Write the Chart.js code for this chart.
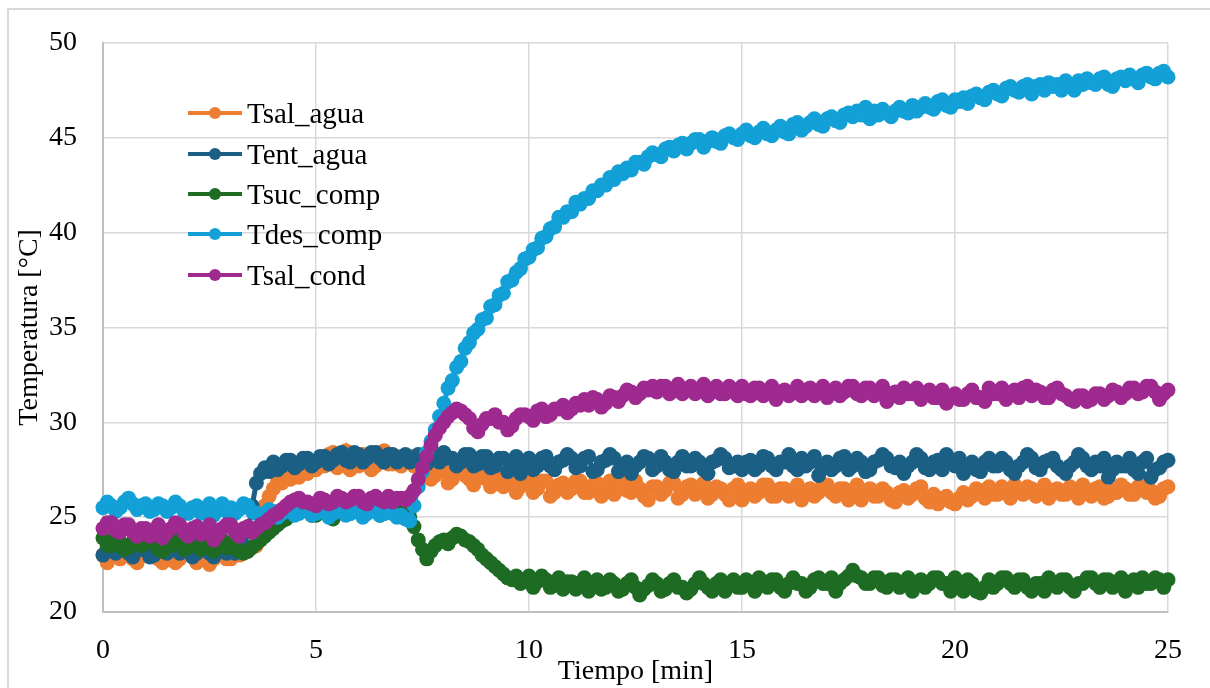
<!DOCTYPE html>
<html>
<head>
<meta charset="utf-8">
<script src="https://cdn.jsdelivr.net/npm/chart.js@4.4.1/dist/chart.umd.min.js"></script>
<style>
    html, body { margin: 0; padding: 0; background: #fff; overflow: hidden; }
    #wrap { position: relative; width: 1210px; height: 688px; }
    #frame { position: absolute; left: 7px; top: 8px; width: 1230px; height: 720px; border: 2px solid #d9d9d9; }
    #grafico { position: absolute; left: 0; top: 0; }
    #leyenda { position: absolute; left: 188px; top: 93px; font-family: 'Liberation Serif', 'Times New Roman', serif; font-size: 29px; color: #000; }
    .item { display: flex; align-items: center; height: 40.4px; line-height: 40px; white-space: nowrap; }
    .sw { position: relative; width: 54px; height: 40px; margin-right: 5px; }
    .sw .ln { position: absolute; left: 0; top: 18px; width: 54px; height: 4px; }
    .sw .dt { position: absolute; left: 21px; top: 14px; width: 12px; height: 12px; border-radius: 50%; }
</style>
</head>
<body>
<div id="wrap">
    <div id="frame"></div>
    <canvas id="grafico" width="1210" height="688"></canvas>
    <div id="leyenda"></div>
</div>
<script>
// Tiempo [min], one row per minute
const tiempo = [
    0, 0.1, 0.2, 0.3, 0.4, 0.5, 0.6, 0.7, 0.8, 0.9,
    1, 1.1, 1.2, 1.3, 1.4, 1.5, 1.6, 1.7, 1.8, 1.9,
    2, 2.1, 2.2, 2.3, 2.4, 2.5, 2.6, 2.7, 2.8, 2.9,
    3, 3.1, 3.2, 3.3, 3.4, 3.5, 3.6, 3.7, 3.8, 3.9,
    4, 4.1, 4.2, 4.3, 4.4, 4.5, 4.6, 4.7, 4.8, 4.9,
    5, 5.1, 5.2, 5.3, 5.4, 5.5, 5.6, 5.7, 5.8, 5.9,
    6, 6.1, 6.2, 6.3, 6.4, 6.5, 6.6, 6.7, 6.8, 6.9,
    7, 7.1, 7.2, 7.3, 7.4, 7.5, 7.6, 7.7, 7.8, 7.9,
    8, 8.1, 8.2, 8.3, 8.4, 8.5, 8.6, 8.7, 8.8, 8.9,
    9, 9.1, 9.2, 9.3, 9.4, 9.5, 9.6, 9.7, 9.8, 9.9,
    10, 10.1, 10.2, 10.3, 10.4, 10.5, 10.6, 10.7, 10.8, 10.9,
    11, 11.1, 11.2, 11.3, 11.4, 11.5, 11.6, 11.7, 11.8, 11.9,
    12, 12.1, 12.2, 12.3, 12.4, 12.5, 12.6, 12.7, 12.8, 12.9,
    13, 13.1, 13.2, 13.3, 13.4, 13.5, 13.6, 13.7, 13.8, 13.9,
    14, 14.1, 14.2, 14.3, 14.4, 14.5, 14.6, 14.7, 14.8, 14.9,
    15, 15.1, 15.2, 15.3, 15.4, 15.5, 15.6, 15.7, 15.8, 15.9,
    16, 16.1, 16.2, 16.3, 16.4, 16.5, 16.6, 16.7, 16.8, 16.9,
    17, 17.1, 17.2, 17.3, 17.4, 17.5, 17.6, 17.7, 17.8, 17.9,
    18, 18.1, 18.2, 18.3, 18.4, 18.5, 18.6, 18.7, 18.8, 18.9,
    19, 19.1, 19.2, 19.3, 19.4, 19.5, 19.6, 19.7, 19.8, 19.9,
    20, 20.1, 20.2, 20.3, 20.4, 20.5, 20.6, 20.7, 20.8, 20.9,
    21, 21.1, 21.2, 21.3, 21.4, 21.5, 21.6, 21.7, 21.8, 21.9,
    22, 22.1, 22.2, 22.3, 22.4, 22.5, 22.6, 22.7, 22.8, 22.9,
    23, 23.1, 23.2, 23.3, 23.4, 23.5, 23.6, 23.7, 23.8, 23.9,
    24, 24.1, 24.2, 24.3, 24.4, 24.5, 24.6, 24.7, 24.8, 24.9,
    25
];

const tSalAgua = [
    23.0, 22.6, 23.4, 23.0, 22.8, 23.2, 23.2, 22.8, 22.6, 23.0,
    23.0, 23.4, 23.2, 22.8, 22.6, 23.0, 23.0, 22.6, 22.8, 23.2,
    23.2, 23.0, 22.6, 23.0, 23.0, 22.5, 22.8, 23.2, 23.2, 22.8,
    22.8, 23.0, 23.0, 23.3, 23.2, 23.4, 23.5, 24.5, 25.6, 26.1,
    26.5, 26.9, 26.8, 27.2, 27.0, 27.4, 27.1, 27.5, 27.3, 27.6,
    27.5, 28.0, 27.7, 28.3, 28.4, 27.6, 27.8, 28.5, 27.5, 28.0,
    27.7, 28.3, 28.0, 27.5, 27.7, 28.4, 28.5, 27.8, 27.8, 28.2,
    27.7, 28.1, 28.2, 27.7, 27.6, 27.3, 27.5, 27.0, 27.2, 27.6,
    27.4, 26.8, 27.0, 27.5, 27.6, 27.2, 27.0, 26.7, 27.3, 27.5,
    27.0, 26.6, 27.2, 26.8, 26.6, 27.1, 26.9, 26.3, 26.6, 26.8,
    26.9, 26.3, 26.5, 26.9, 26.9, 26.1, 26.3, 26.7, 26.8, 26.3,
    26.5, 26.9, 26.9, 26.3, 26.3, 26.7, 26.8, 26.1, 26.5, 26.9,
    26.2, 26.6, 26.8, 26.4, 26.3, 26.9, 26.5, 26.1, 25.9, 26.6,
    26.6, 26.2, 26.4, 26.8, 26.8, 26.0, 26.2, 26.6, 26.7, 26.2,
    26.4, 26.8, 26.0, 26.2, 26.6, 26.5, 26.2, 25.9, 26.5, 26.7,
    25.9, 26.3, 26.5, 26.1, 26.3, 26.7, 26.7, 26.1, 26.1, 26.5,
    26.5, 26.1, 26.3, 26.7, 25.9, 26.3, 26.5, 26.1, 26.3, 26.7,
    26.7, 26.3, 26.1, 26.5, 26.5, 25.9, 26.3, 26.7, 25.9, 26.3,
    26.5, 26.1, 26.1, 26.5, 26.3, 25.9, 25.8, 26.3, 26.4, 26.0,
    26.2, 26.5, 26.6, 26.0, 25.8, 26.2, 25.7, 26.0, 26.1, 25.8,
    25.7, 26.0, 26.3, 25.9, 26.1, 26.5, 26.4, 26.0, 26.6, 26.2,
    26.2, 26.6, 26.4, 26.0, 26.7, 26.4, 26.2, 26.6, 26.5, 26.1,
    26.4, 26.7, 26.0, 26.4, 26.5, 26.2, 26.2, 26.6, 26.4, 26.0,
    26.7, 26.4, 26.1, 26.5, 26.6, 26.0, 26.1, 26.4, 26.3, 26.7,
    26.5, 26.2, 26.2, 26.6, 26.7, 26.3, 26.4, 26.0, 26.1, 26.5,
    26.6
];

const tEntAgua = [
    23.0, 23.4, 23.5, 23.1, 23.3, 23.5, 23.1, 22.9, 23.5, 23.3,
    23.3, 22.9, 23.0, 23.5, 23.3, 23.1, 23.5, 23.3, 23.1, 23.5,
    23.3, 22.9, 23.1, 23.3, 23.5, 23.1, 22.9, 23.3, 23.4, 23.1,
    23.5, 23.1, 23.3, 23.5, 24.2, 25.6, 26.8, 27.3, 27.6, 27.4,
    27.9, 27.5, 27.7, 28.0, 28.0, 27.6, 27.8, 28.1, 28.1, 27.7,
    27.9, 28.2, 28.2, 27.8, 28.0, 28.3, 28.4, 28.0, 27.9, 28.4,
    28.3, 27.9, 28.1, 28.4, 28.4, 28.1, 27.9, 28.3, 28.3, 27.9,
    28.1, 28.3, 27.9, 28.1, 28.3, 27.8, 27.8, 28.3, 28.3, 27.9,
    28.4, 28.1, 28.1, 27.7, 27.9, 28.3, 28.3, 27.7, 27.8, 28.2,
    28.2, 27.6, 27.7, 28.1, 28.1, 27.4, 27.9, 28.2, 27.3, 27.9,
    28.1, 27.5, 27.7, 28.1, 28.2, 27.7, 27.5, 27.9, 28.0, 28.3,
    28.1, 27.6, 27.7, 28.1, 28.2, 27.4, 27.5, 27.9, 28.0, 28.3,
    28.1, 27.4, 27.7, 27.9, 27.3, 27.7, 27.9, 28.2, 28.1, 27.5,
    27.7, 28.2, 27.9, 27.5, 27.4, 27.9, 28.2, 27.7, 27.7, 28.1,
    27.9, 27.5, 27.3, 27.9, 28.0, 28.3, 28.1, 27.6, 27.7, 27.9,
    27.5, 27.9, 28.0, 27.5, 27.7, 28.2, 28.1, 27.7, 27.5, 27.9,
    27.9, 28.3, 27.7, 27.5, 28.1, 27.7, 27.9, 28.2, 27.2, 27.7,
    27.9, 27.5, 27.7, 28.1, 28.2, 27.5, 27.7, 28.1, 27.9, 27.4,
    27.5, 27.9, 28.0, 28.3, 28.1, 27.7, 27.6, 27.9, 27.3, 27.7,
    27.9, 28.3, 28.1, 27.6, 27.5, 27.9, 28.0, 27.5, 28.3, 27.9,
    27.7, 28.1, 27.3, 27.7, 27.9, 27.5, 27.4, 27.9, 28.1, 27.7,
    27.7, 28.1, 27.9, 27.5, 27.3, 27.7, 27.9, 28.3, 28.1, 27.6,
    27.5, 27.9, 28.0, 28.1, 27.7, 27.5, 27.3, 27.7, 27.9, 28.3,
    28.1, 27.7, 27.5, 27.9, 27.7, 28.1, 27.1, 27.5, 27.9, 27.7,
    27.7, 28.1, 27.5, 27.3, 27.9, 28.1, 27.1, 27.5, 27.6, 27.9,
    28.0
];

const tSucComp = [
    23.9, 23.5, 23.5, 23.9, 23.7, 23.3, 23.4, 23.7, 23.9, 23.5,
    23.6, 23.9, 23.7, 23.3, 23.2, 23.6, 23.5, 23.9, 23.7, 23.3,
    23.4, 23.8, 23.7, 23.3, 23.5, 23.9, 23.2, 23.6, 23.8, 23.4,
    23.4, 23.8, 23.2, 23.1, 23.2, 23.4, 23.6, 23.8, 24.0, 24.2,
    24.4, 24.6, 24.8, 24.9, 25.1, 25.2, 25.3, 25.5, 25.4, 25.1,
    25.1, 25.4, 25.6, 25.3, 24.9, 25.2, 25.5, 25.3, 25.2, 25.5,
    25.6, 25.2, 25.3, 25.6, 25.4, 25.1, 25.2, 25.5, 25.4, 25.1,
    25.3, 25.4, 25.0, 24.5, 23.8, 23.3, 22.8, 23.2, 23.5, 23.7,
    23.8, 23.6, 23.9, 24.1, 24.0, 23.8, 23.7, 23.5, 23.3, 23.0,
    22.8, 22.6, 22.4, 22.2, 22.0, 21.8, 21.7, 21.9, 21.5, 21.7,
    21.9, 21.3, 21.6, 21.9, 21.7, 21.3, 21.4, 21.8, 21.2, 21.6,
    21.6, 21.2, 21.4, 21.8, 21.1, 21.5, 21.7, 21.2, 21.3, 21.7,
    21.5, 21.1, 21.2, 21.5, 21.7, 21.3, 20.9, 21.2, 21.4, 21.7,
    21.5, 21.1, 21.2, 21.5, 21.7, 21.3, 21.3, 21.0, 21.2, 21.5,
    21.8, 21.5, 21.3, 21.1, 21.5, 21.7, 21.1, 21.5, 21.7, 21.3,
    21.3, 21.7, 21.5, 21.1, 21.8, 21.5, 21.3, 21.7, 21.7, 21.3,
    21.1, 21.5, 21.8, 21.5, 21.5, 21.1, 21.3, 21.7, 21.8, 21.5,
    21.5, 21.8, 21.1, 21.5, 21.7, 21.9, 22.2, 21.9, 21.8, 21.5,
    21.5, 21.8, 21.8, 21.4, 21.3, 21.7, 21.7, 21.3, 21.5, 21.8,
    21.1, 21.5, 21.7, 21.3, 21.5, 21.8, 21.8, 21.5, 21.5, 21.1,
    21.8, 21.5, 21.1, 21.7, 21.5, 21.1, 21.0, 21.3, 21.7, 21.3,
    21.5, 21.8, 21.8, 21.5, 21.3, 21.7, 21.7, 21.3, 21.1, 21.5,
    21.5, 21.1, 21.8, 21.5, 21.3, 21.7, 21.7, 21.3, 21.1, 21.5,
    21.5, 21.8, 21.8, 21.5, 21.3, 21.7, 21.7, 21.3, 21.5, 21.8,
    21.1, 21.5, 21.7, 21.3, 21.8, 21.5, 21.5, 21.8, 21.7, 21.3,
    21.7
];

const tDesComp = [
    25.5, 25.8, 25.6, 25.3, 25.5, 25.8, 26.0, 25.7, 25.4, 25.6,
    25.7, 25.3, 25.4, 25.7, 25.6, 25.3, 25.5, 25.8, 25.6, 25.3,
    25.2, 25.5, 25.6, 25.2, 25.4, 25.7, 25.1, 25.4, 25.7, 25.3,
    25.5, 25.2, 25.4, 25.7, 25.6, 25.3, 25.2, 25.1, 25.2, 25.4,
    25.3, 25.0, 25.2, 25.4, 25.3, 25.1, 25.2, 25.4, 25.4, 25.1,
    25.2, 25.4, 25.3, 25.0, 25.2, 25.4, 25.3, 25.1, 25.2, 25.3,
    25.3, 25.0, 25.2, 25.4, 25.3, 25.1, 25.2, 25.3, 25.2, 25.0,
    25.1, 24.9, 24.8, 25.6, 26.6, 27.4, 28.4, 29.0, 29.6, 30.3,
    31.0, 31.8, 32.2, 32.9, 33.2, 33.9, 34.2, 34.7, 34.9, 35.4,
    35.5, 36.1, 36.2, 36.7, 36.8, 37.4, 37.5, 37.9, 38.1, 38.6,
    38.7, 39.1, 39.2, 39.7, 39.8, 40.2, 40.3, 40.8, 40.8, 41.1,
    41.1, 41.6, 41.5, 41.8, 41.8, 42.2, 42.2, 42.5, 42.5, 42.9,
    42.8, 43.2, 43.1, 43.4, 43.3, 43.7, 43.7, 43.6, 44.0, 44.2,
    44.1, 44.0, 44.4, 44.5, 44.3, 44.6, 44.7, 44.4, 44.7, 44.9,
    44.9, 44.5, 44.8, 45.0, 44.8, 44.7, 45.1, 45.2, 45.0, 44.9,
    45.2, 45.4, 45.1, 45.0, 45.3, 45.5, 45.2, 45.1, 45.4, 45.6,
    45.3, 45.2, 45.7, 45.8, 45.4, 45.6, 45.8, 46.0, 45.7, 45.6,
    46.0, 46.1, 45.9, 45.8, 46.2, 46.3, 46.1, 46.4, 46.2, 46.6,
    46.0, 46.4, 46.2, 46.5, 46.3, 46.1, 46.4, 46.6, 46.4, 46.3,
    46.7, 46.4, 46.6, 46.8, 46.6, 46.5, 46.9, 47.0, 46.7, 46.6,
    47.0, 46.9, 47.1, 46.8, 47.2, 47.3, 47.1, 47.0, 47.4, 47.5,
    47.3, 47.2, 47.6, 47.7, 47.5, 47.4, 47.7, 47.8, 47.3, 47.7,
    47.8, 47.5, 47.9, 47.7, 47.8, 47.5, 48.0, 47.7, 47.5, 48.0,
    47.8, 48.1, 47.9, 47.8, 48.1, 48.2, 47.8, 47.7, 48.1, 48.2,
    48.0, 48.3, 48.1, 47.9, 48.3, 48.4, 48.2, 48.1, 48.4, 48.5,
    48.2
];

const tSalCond = [
    24.4, 24.7, 24.7, 24.3, 24.2, 24.6, 24.6, 24.2, 24.0, 24.4,
    24.4, 24.0, 24.2, 24.6, 23.9, 24.2, 24.4, 24.7, 24.6, 24.2,
    24.0, 24.4, 24.5, 24.1, 24.2, 24.6, 23.8, 24.1, 24.4, 24.6,
    24.6, 24.2, 24.0, 24.4, 24.5, 24.2, 24.4, 24.6, 24.7, 24.9,
    25.1, 25.2, 25.4, 25.6, 25.8, 25.9, 26.0, 25.8, 25.8, 25.7,
    25.6, 26.0, 25.9, 25.7, 25.8, 26.1, 26.0, 25.8, 25.9, 26.1,
    26.1, 25.8, 25.7, 26.0, 26.1, 25.9, 25.8, 26.1, 25.8, 26.0,
    26.0, 25.9, 26.1, 26.4, 27.0, 27.6, 28.2, 28.8, 29.3, 29.7,
    30.0, 30.3, 30.5, 30.7, 30.6, 30.4, 30.2, 29.7, 29.5, 29.9,
    30.2, 30.2, 30.4, 30.0, 30.0, 29.6, 29.8, 30.2, 30.4, 30.4,
    30.3, 30.1, 30.6, 30.7, 30.3, 30.4, 30.7, 30.7, 30.9, 30.5,
    30.7, 31.0, 30.9, 31.2, 30.9, 31.3, 31.2, 30.8, 31.0, 31.4,
    31.3, 31.1, 31.4, 31.7, 31.6, 31.3, 31.5, 31.8, 31.7, 31.9,
    31.6, 31.9, 31.9, 31.5, 31.7, 32.0, 31.5, 31.7, 31.9, 31.5,
    31.7, 32.0, 31.4, 31.7, 31.9, 31.5, 31.5, 31.9, 31.7, 31.4,
    31.9, 31.5, 31.4, 31.8, 31.8, 31.4, 31.6, 31.9, 31.2, 31.6,
    31.7, 31.4, 31.6, 31.9, 31.4, 31.7, 31.8, 31.4, 31.6, 31.9,
    31.3, 31.6, 31.8, 31.4, 31.6, 31.9, 31.9, 31.5, 31.4, 31.8,
    31.8, 31.4, 31.6, 31.9, 31.1, 31.4, 31.6, 31.3, 31.8, 31.5,
    31.5, 31.8, 31.2, 31.5, 31.7, 31.3, 31.3, 31.7, 31.0, 31.3,
    31.5, 31.2, 31.2, 31.5, 31.7, 31.3, 31.3, 31.1, 31.8, 31.5,
    31.5, 31.8, 31.2, 31.5, 31.7, 31.3, 31.8, 31.9, 31.4, 31.7,
    31.6, 31.3, 31.3, 31.7, 31.8, 31.5, 31.4, 31.2, 31.1, 31.4,
    31.4, 31.1, 31.2, 31.5, 31.5, 31.2, 31.4, 31.7, 31.6, 31.3,
    31.5, 31.8, 31.8, 31.5, 31.6, 31.9, 31.9, 31.6, 31.2, 31.5,
    31.7
];

const nombres = ['Tsal_agua', 'Tent_agua', 'Tsuc_comp', 'Tdes_comp', 'Tsal_cond'];
const series = [tSalAgua, tEntAgua, tSucComp, tDesComp, tSalCond];
const colores = ['#ED7D31', '#1B5F84', '#1E6B24', '#12A0D7', '#9E2A90'];

const fuente = "'Liberation Serif', 'Times New Roman', serif";

// Excel draws the last series on top, so higher index gets lower order
const datasets = series.map((valores, i) => ({
    label: nombres[i],
    data: tiempo.map((t, k) => ({ x: t, y: valores[k] })),
    borderColor: colores[i],
    backgroundColor: colores[i],
    pointBackgroundColor: colores[i],
    pointBorderColor: colores[i],
    pointBorderWidth: 0,
    pointRadius: 7.5,
    borderWidth: 5,
    tension: 0,
    clip: false,
    order: series.length - 1 - i
}));

const ctx = document.getElementById('grafico').getContext('2d');
new Chart(ctx, {
    type: 'line',
    data: { datasets },
    options: {
        responsive: false,
        animation: false,
        layout: { padding: { left: 0, top: 37, right: 42, bottom: 0 } },
        elements: {
            point: { radius: 7.5, borderWidth: 0 },
            line: { borderWidth: 5 }
        },
        plugins: {
            legend: { display: false },
            tooltip: { enabled: false }
        },
        scales: {
            x: {
                type: 'linear',
                min: 0,
                max: 25,
                ticks: { stepSize: 5, color: '#000', padding: 22, maxRotation: 0, font: { family: fuente, size: 28 } },
                grid: { color: '#d9d9d9', lineWidth: 1.5, drawTicks: false },
                border: { color: '#bfbfbf', width: 2 },
                title: { display: true, text: 'Tiempo [min]', color: '#000', padding: { top: 0, bottom: 0 }, font: { family: fuente, size: 28 } },
                afterFit: (s) => { s.height = 76; }
            },
            y: {
                min: 20,
                max: 50,
                ticks: { stepSize: 5, color: '#000', padding: 26, font: { family: fuente, size: 28 } },
                grid: { color: '#d9d9d9', lineWidth: 1.5, drawTicks: false },
                border: { color: '#bfbfbf', width: 2 },
                title: { display: true, text: 'Temperatura [°C]', color: '#000', padding: { top: 13, bottom: 0 }, font: { family: fuente, size: 28 } },
                afterFit: (s) => { s.width = 103; }
            }
        }
    }
});

// Legend inside the plot, top-left, like the original
const leyenda = document.getElementById('leyenda');
nombres.forEach((nombre, i) => {
    const item = document.createElement('div');
    item.className = 'item';
    item.innerHTML = '<span class="sw"><span class="ln" style="background:' + colores[i] + '"></span>' +
        '<span class="dt" style="background:' + colores[i] + '"></span></span><span>' + nombre + '</span>';
    leyenda.appendChild(item);
});
</script>
</body>
</html>
